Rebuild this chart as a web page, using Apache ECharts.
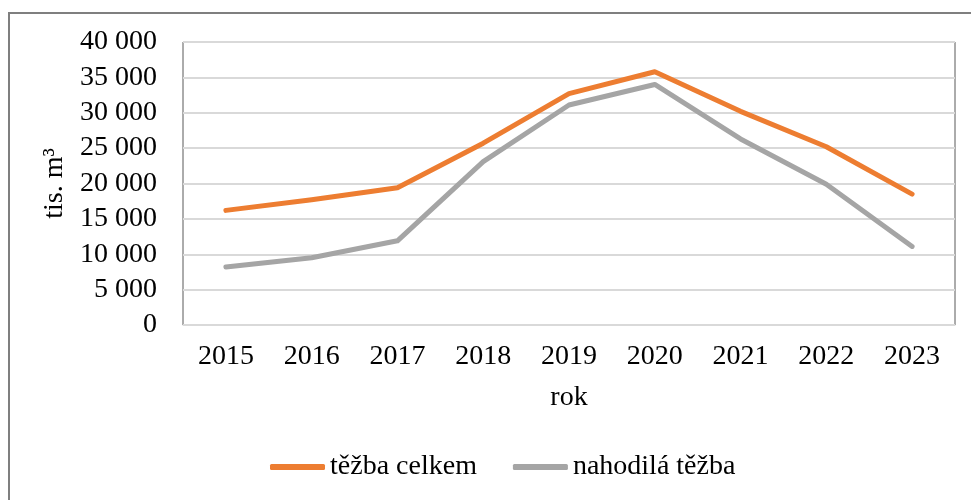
<!DOCTYPE html>
<html>
<head>
<meta charset="utf-8">
<script src="https://cdn.jsdelivr.net/npm/echarts@6/dist/echarts.min.js"></script>
<style>
  html, body { margin: 0; padding: 0; background: #fff; }
  #chart { width: 971px; height: 500px; }
</style>
</head>
<body>
<div id="chart"></div>
<script>
// roky a hodnoty (tis. m3)
var years = ['2015', '2016', '2017', '2018', '2019', '2020', '2021', '2022', '2023'];
var tezbaCelkem = [16200, 17700, 19400, 25700, 32700, 35800, 30200, 25200, 18500];
var nahodilaTezba = [8200, 9500, 11900, 23100, 31100, 34000, 26300, 19900, 11100];
var yTicks = [0, 5000, 10000, 15000, 20000, 25000, 30000, 35000, 40000];

var FONT = '"Liberation Serif", "Times New Roman", serif';

function fmt(v) {
	return String(v).replace(/\B(?=(\d{3})+(?!\d))/g, ' ');
}

var chart = echarts.init(document.getElementById('chart'), null, { renderer: 'canvas' });

chart.setOption({
	animation: false,
	backgroundColor: '#fff',
	textStyle: { fontFamily: FONT, color: '#000' },
	graphic: [{
		type: 'rect',
		silent: true,
		shape: { x: 9, y: 13, width: 1100, height: 1100 },
		style: { fill: 'none', stroke: '#7f7f7f', lineWidth: 2 }
	}],
	grid: {
		left: 183,
		top: 42,
		right: 16,
		bottom: 175,
		show: true,
		borderColor: '#595959',
		borderWidth: 1
	},
	legend: {
		bottom: 14,
		left: 265,
		icon: 'roundRect',
		itemWidth: 55,
		itemHeight: 6,
		itemGap: 36,
		textStyle: { fontFamily: FONT, fontSize: 28, color: '#000' },
		data: ['těžba celkem', 'nahodilá těžba']
	},
	xAxis: {
		type: 'category',
		data: years,
		boundaryGap: true,
		name: 'rok',
		nameLocation: 'middle',
		nameGap: 59,
		nameTextStyle: { fontFamily: FONT, fontSize: 28, color: '#000' },
		axisLine: { show: true, lineStyle: { color: '#d9d9d9', width: 1 } },
		axisTick: { show: false },
		axisLabel: { margin: 18, fontFamily: FONT, fontSize: 28, color: '#000' }
	},
	yAxis: {
		type: 'value',
		min: yTicks[0],
		max: yTicks[yTicks.length - 1],
		interval: 5000,
		name: 'tis. m³',
		nameLocation: 'middle',
		nameGap: 110,
		nameTextStyle: { fontFamily: FONT, fontSize: 28, color: '#000' },
		axisLine: { show: false },
		axisTick: { show: false },
		axisLabel: {
			margin: 26,
			fontFamily: FONT,
			fontSize: 28,
			color: '#000',
			formatter: function(v) { return fmt(v); }
		},
		splitLine: { show: true, lineStyle: { color: '#d9d9d9', width: 2 } }
	},
	series: [{
		name: 'těžba celkem',
		type: 'line',
		data: tezbaCelkem,
		symbol: 'none',
		lineStyle: { color: '#ed7d31', width: 5, cap: 'round', join: 'round' },
		itemStyle: { color: '#ed7d31' }
	}, {
		name: 'nahodilá těžba',
		type: 'line',
		data: nahodilaTezba,
		symbol: 'none',
		z: 1,
		lineStyle: { color: '#a5a5a5', width: 5, cap: 'round', join: 'round' },
		itemStyle: { color: '#a5a5a5' }
	}]
});
</script>
</body>
</html>
